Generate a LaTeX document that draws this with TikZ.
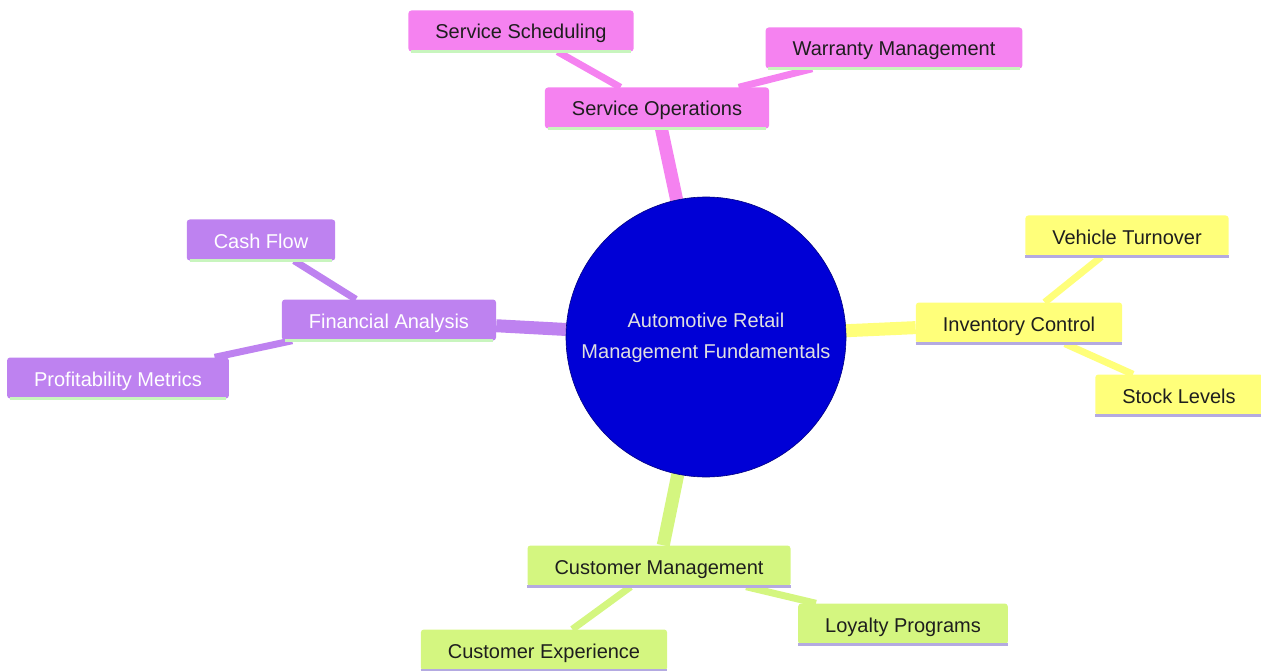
\documentclass[tikz,border=0pt]{standalone}
\usepackage{fontspec}
\setmainfont{Liberation Sans}
\usetikzlibrary{backgrounds}
\definecolor{pinkc}{RGB}{245,130,240}
\definecolor{purpc}{RGB}{190,130,240}
\definecolor{yelc}{RGB}{255,255,122}
\definecolor{grnc}{RGB}{212,246,128}
\definecolor{centc}{RGB}{0,0,214}
\definecolor{lgreen}{RGB}{200,245,190}
\definecolor{lav}{RGB}{180,170,225}
\definecolor{dtext}{RGB}{30,30,30}
\begin{document}
\begin{tikzpicture}[x=1pt,y=-1pt,
  box/.style={rectangle,rounded corners=3pt,inner xsep=27pt,inner ysep=0pt,minimum height=41pt,
    text height=18pt,text depth=2pt,font=\fontsize{20}{24}\selectfont},
  pinkbox/.style={box,fill=pinkc,text=dtext},
  purpbox/.style={box,fill=purpc,text=white},
  yelbox/.style={box,fill=yelc,text=dtext},
  grnbox/.style={box,fill=grnc,text=dtext},
  mainedge/.style={line width=13pt},
  subedge/.style={line width=7pt},
  underline/.style={line width=2.5pt}
]
\useasboundingbox (0,0) rectangle (1261,671);
% center
\node[circle,fill=centc,draw=centc!60!black,line width=0.6pt,minimum size=280pt,inner sep=0pt,
  text=white!88!black,font=\fontsize{20}{31}\selectfont] (c) at (706,337)
  {\raisebox{-3pt}{\begin{tabular}{@{}c@{}}Automotive Retail\\Management Fundamentals\end{tabular}}};
% pink
\node[pinkbox] (so) at (657,108) {Service Operations};
\node[pinkbox] (ss) at (521,31) {Service Scheduling};
\node[pinkbox] (wm) at (894,48) {Warranty Management};
% purple
\node[purpbox] (fa) at (389,320) {Financial Analysis};
\node[purpbox] (cf) at (261,240) {Cash Flow};
\node[purpbox] (pm) at (118,378) {Profitability Metrics};
% yellow
\node[yelbox] (ic) at (1019,323) {Inventory Control};
\node[yelbox] (vt) at (1127,236) {Vehicle Turnover};
\node[yelbox] (sl) at (1179,395) {Stock Levels};
% green
\node[grnbox] (cm) at (659,566) {Customer Management};
\node[grnbox] (ce) at (544,650) {Customer Experience};
\node[grnbox] (lp) at (903,624) {Loyalty Programs};
% underlines
\foreach \n in {so,ss,wm,fa,cf,pm}
  \draw[underline,lgreen] ([xshift=3pt]\n.south west) -- ([xshift=-3pt]\n.south east);
\foreach \n in {ic,vt,sl,cm,ce,lp}
  \draw[underline,lav] (\n.south west) -- (\n.south east);
\begin{scope}[on background layer]
\draw[mainedge,pinkc] (c) -- (so);
\draw[mainedge,purpc] (c) -- (fa);
\draw[mainedge,yelc] (c) -- (ic);
\draw[mainedge,grnc] (c) -- (cm);
\draw[subedge,pinkc] (so) -- (ss);
\draw[subedge,pinkc] (so) -- (wm);
\draw[subedge,purpc] (fa) -- (cf);
\draw[subedge,purpc] (fa) -- (pm);
\draw[subedge,yelc] (ic) -- (vt);
\draw[subedge,yelc] (ic) -- (sl);
\draw[subedge,grnc] (cm) -- (ce);
\draw[subedge,grnc] (cm) -- (lp);
\end{scope}
\end{tikzpicture}
\end{document}
